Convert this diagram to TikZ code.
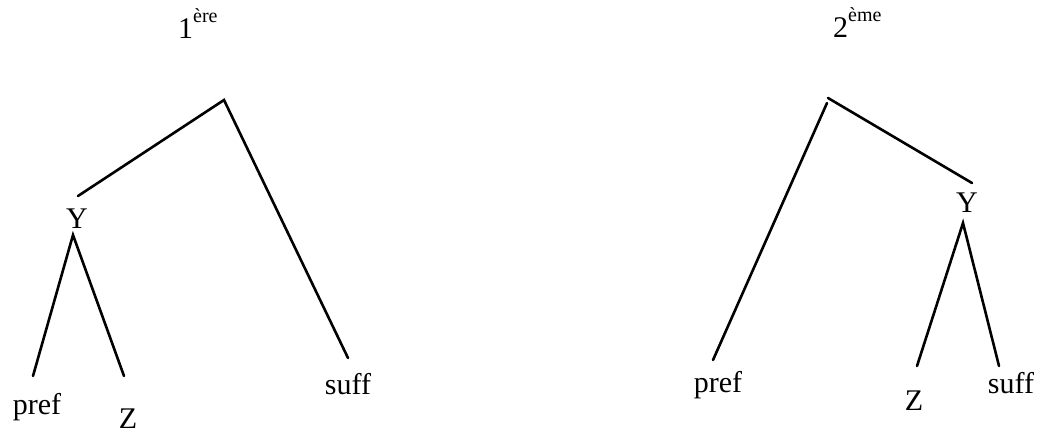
\documentclass[tikz,border=0pt]{standalone}
\usepackage{fontspec}
\setmainfont{Liberation Serif}
\usepackage{tikz}
\usetikzlibrary{positioning}

% ordinal with a raised ending
\newcommand{\rang}[2]{#1\raisebox{16pt}{\fontsize{20}{24}\selectfont #2}}

\begin{document}
\begin{tikzpicture}[
    x=1pt, y=-1pt,
    word/.style={font=\fontsize{30}{36}\selectfont, inner sep=0pt, anchor=base},
    branch/.style={line width=2.6pt, line cap=round}
]
\useasboundingbox (0,0) rectangle (1038,435);

% first tree
\node[word, anchor=base west] (title1) at (178,39) {\rang{1}{ère}};
\coordinate (top1) at (224,100);
\node[word] (y1) at (77,229) {Y};
\node[word] (pref1) at (37,414) {pref};
\node[word] (z1) at (128,428) {Z};
\node[word] (suff1) at (348,394) {suff};

\coordinate (y1up) at (78,196);
\coordinate (y1dn) at (73,235);
\coordinate (pref1up) at (33,376);
\coordinate (z1up) at (124,376);
\coordinate (suff1up) at (348,358);

\draw[branch] (y1up) -- (top1) -- (suff1up);
\draw[branch] (pref1up) -- (y1dn) -- (z1up);

% second tree
\node[word, anchor=base west] (title2) at (833,38) {\rang{2}{ème}};
\coordinate (top2) at (828,98);
\coordinate (top2b) at (827,103);
\node[word] (y2) at (967,213) {Y};
\node[word] (pref2) at (718,392) {pref};
\node[word] (z2) at (914,410) {Z};
\node[word] (suff2) at (1011,393) {suff};

\coordinate (y2up) at (972,183);
\coordinate (y2dn) at (963,223);
\coordinate (pref2up) at (713,360);
\coordinate (z2up) at (917,366);
\coordinate (suff2up) at (999,366);

\draw[branch] (top2) -- (y2up);
\draw[branch] (top2b) -- (pref2up);
\draw[branch] (z2up) -- (y2dn) -- (suff2up);
\end{tikzpicture}
\end{document}
